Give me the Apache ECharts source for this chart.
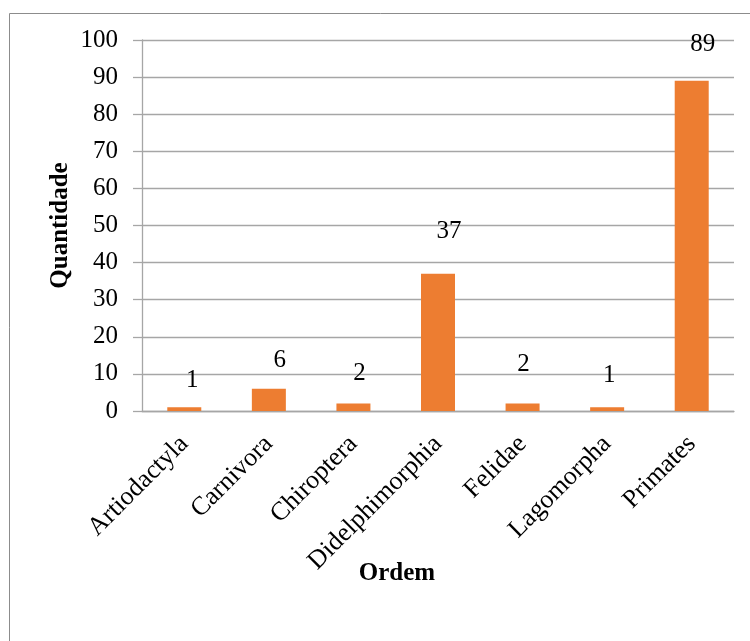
<!DOCTYPE html>
<html>
<head>
<meta charset="utf-8">
<script src="https://cdn.jsdelivr.net/npm/echarts@6/dist/echarts.min.js"></script>
<style>
html,body{margin:0;padding:0;background:#fff;}
#c{width:750px;height:641px;}
</style>
</head>
<body>
<div id="c"></div>
<script>
const categories = ['Artiodactyla','Carnivora','Chiroptera','Didelphimorphia','Felidae','Lagomorpha','Primates'];
const values = [1, 6, 2, 37, 2, 1, 89];
const yTicks = {min: 0, max: 100, interval: 10};
const labelNudges = [[8,6],[11,4],[6,2],[11,-10],[1,-7],[2,1],[11,-4]];

const serif = '"Liberation Serif","Times New Roman",serif';
const chart = echarts.init(document.getElementById('c'), null, {renderer:'canvas'});
chart.setOption({
  backgroundColor: '#fff',
  animation: false,
  graphic: [{
    type: 'rect', left: 7, top: 11,
    shape: {width: 900, height: 800},
    style: {fill: 'none', stroke: '#8c8c8c', lineWidth: 1},
    silent: true
  }],
  grid: {left: 142, top: 40, right: 16, bottom: 230, containLabel: false},
  xAxis: {
    type: 'category',
    data: categories,
    name: 'Ordem',
    nameLocation: 'middle',
    nameGap: 150,
    nameMoveOverlap: false,
    nameTextStyle: {fontFamily: serif, fontSize: 25, fontWeight: 'bold', color: '#000', padding: [0, 82, 0, 0]},
    axisLine: {lineStyle: {color: '#a6a6a6', width: 1.3}},
    axisTick: {show: false},
    axisLabel: {rotate: 45, margin: 29, fontFamily: serif, fontSize: 26, color: '#000', interval: 0}
  },
  yAxis: {
    type: 'value',
    min: yTicks.min, max: yTicks.max, interval: yTicks.interval,
    name: 'Quantidade',
    nameLocation: 'middle',
    nameRotate: 90,
    nameGap: 69,
    nameMoveOverlap: false,
    nameTextStyle: {fontFamily: serif, fontSize: 25, fontWeight: 'bold', color: '#000'},
    axisLine: {show: true, lineStyle: {color: '#a6a6a6', width: 1.3}},
    axisTick: {show: true, length: 9, lineStyle: {color: '#a6a6a6', width: 1.3}},
    splitLine: {show: true, lineStyle: {color: '#a6a6a6', width: 1.3}},
    axisLabel: {margin: 24, fontFamily: serif, fontSize: 25, color: '#000'}
  },
  series: [{
    type: 'bar',
    barWidth: 34,
    itemStyle: {color: '#ED7D31'},
    data: values.map((v, i) => ({
      value: v,
      label: {offset: labelNudges[i]}
    })),
    label: {
      show: true, position: 'top', distance: 20,
      fontFamily: serif, fontSize: 25, color: '#000'
    }
  }]
});
</script>
</body>
</html>
